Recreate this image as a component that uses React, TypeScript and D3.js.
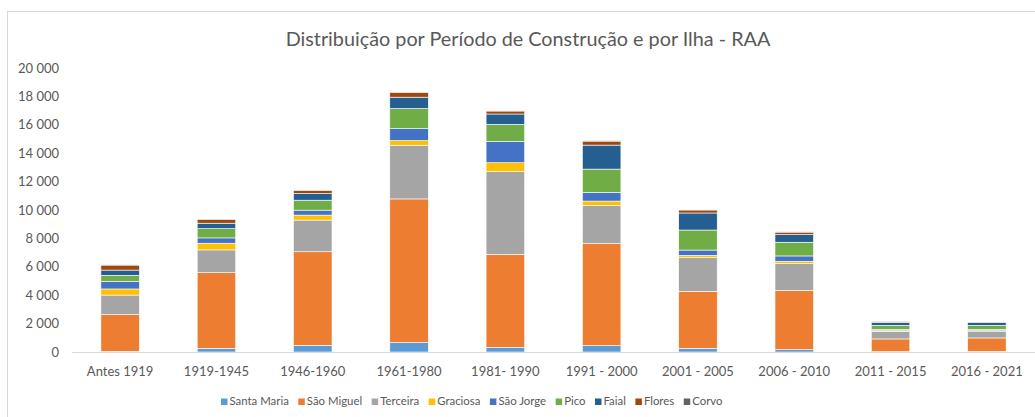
import React, { useEffect, useRef } from "react";
import * as d3 from "d3";

const categories = ["Antes 1919", "1919-1945", "1946-1960", "1961-1980", "1981- 1990", "1991 - 2000", "2001 - 2005", "2006 - 2010", "2011 - 2015", "2016 - 2021"];
const islands = ["Santa Maria", "São Miguel", "Terceira", "Graciosa", "São Jorge", "Pico", "Faial", "Flores", "Corvo"];
const colors = ["#5B9BD5", "#ED7D31", "#A5A5A5", "#FFC000", "#4472C4", "#70AD47", "#255E91", "#9E480E", "#636363"];

const santaMaria = [50, 260, 470, 660, 330, 450, 260, 165, 30, 40];
const saoMiguel = [2600, 5330, 6590, 10120, 6550, 7180, 4010, 4180, 890, 950];
const terceira = [1360, 1600, 2230, 3780, 5820, 2700, 2370, 1880, 540, 480];
const graciosa = [430, 470, 350, 330, 630, 300, 165, 165, 50, 40];
const saoJorge = [540, 375, 350, 845, 1500, 610, 375, 375, 90, 90];
const pico = [420, 655, 700, 1410, 1200, 1640, 1410, 965, 280, 280];
const faial = [370, 380, 470, 800, 730, 1690, 1200, 540, 210, 210];
const flores = [350, 250, 210, 320, 210, 280, 210, 170, 60, 40];
const corvo = [30, 30, 30, 30, 25, 25, 25, 20, 10, 10];

const yTicks = [0, 2000, 4000, 6000, 8000, 10000, 12000, 14000, 16000, 18000, 20000];

const seriesValues = [santaMaria, saoMiguel, terceira, graciosa, saoJorge, pico, faial, flores, corvo];

const W = 1035, H = 417;
const FONT = "Lato, 'Open Sans', sans-serif";
const TEXT = "#595959";

export default function App() {
  const ref = useRef<SVGSVGElement>(null);

  useEffect(() => {
    const svg = d3.select(ref.current);
    svg.selectAll("*").remove();

    // table for the stack
    const rows = categories.map((c, i) => {
      const r: any = { cat: c };
      islands.forEach((k, j) => (r[k] = seriesValues[j][i]));
      return r;
    });
    const stacked = d3.stack().keys(islands)(rows);

    const x = d3.scaleBand().domain(categories).range([72, 1035]).paddingInner(0.6).paddingOuter(0.3);
    const y = d3.scaleLinear().domain([0, 20000]).range([352, 68]);

    // frame
    svg.append("rect")
      .attr("x", 7.5).attr("y", 11.5)
      .attr("width", 1040).attr("height", 420)
      .attr("fill", "none").attr("stroke", "#d9d9d9");

    svg.append("text")
      .attr("x", 528).attr("y", 46)
      .attr("text-anchor", "middle")
      .attr("font-family", FONT).attr("font-size", 19.8)
      .attr("fill", TEXT)
      .text("Distribuição por Período de Construção e por Ilha - RAA");

    // y labels
    const fmt = (v: number) => d3.format(",")(v).replace(/,/g, " ");
    svg.append("g").selectAll("text").data(yTicks).join("text")
      .attr("x", 59).attr("y", (d) => y(d))
      .attr("dy", "0.35em")
      .attr("text-anchor", "end")
      .attr("font-family", FONT).attr("font-size", 13)
      .attr("fill", TEXT)
      .text((d) => fmt(d));

    // bars
    svg.append("g").selectAll("g").data(stacked).join("g")
      .attr("fill", (d, i) => colors[i])
      .selectAll("rect").data((d) => d).join("rect")
      .attr("x", (d: any) => x(d.data.cat)!)
      .attr("width", x.bandwidth())
      .attr("y", (d) => y(d[1]))
      .attr("height", (d) => y(d[0]) - y(d[1]))
      .attr("stroke", "#ffffff").attr("stroke-width", 0.6);

    // x axis line
    svg.append("line")
      .attr("x1", 72).attr("x2", 1035)
      .attr("y1", y(0) + 0.5).attr("y2", y(0) + 0.5)
      .attr("stroke", "#d9d9d9");

    svg.append("g").selectAll("text").data(categories).join("text")
      .attr("x", (d) => x(d)! + x.bandwidth() / 2)
      .attr("y", 371).attr("dy", "0.35em")
      .attr("text-anchor", "middle")
      .attr("font-family", FONT).attr("font-size", 13)
      .attr("fill", TEXT)
      .text((d) => d);

    // legend
    const legend = svg.append("g");
    let lx = 221;
    islands.forEach((name, i) => {
      legend.append("rect")
        .attr("x", lx).attr("y", 398.5)
        .attr("width", 6.5).attr("height", 6.5)
        .attr("fill", colors[i]);
      const t = legend.append("text")
        .attr("x", lx + 8.5).attr("y", 401.5).attr("dy", "0.35em")
        .attr("font-family", FONT).attr("font-size", 11.4)
        .attr("fill", TEXT)
        .text(name);
      const w = (t.node() as SVGTextElement).getComputedTextLength();
      lx += 8.5 + w + 9.5;
    });
  }, []);

  return <svg ref={ref} width={W} height={H} style={{ display: "block", position: "absolute", left: 0, top: 0 }} />;
}
